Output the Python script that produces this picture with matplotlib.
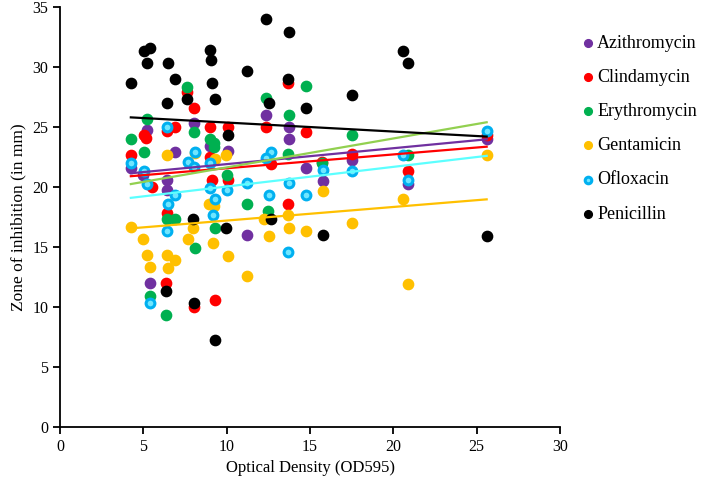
#
# Zone d'inhibition en fonction de la densité optique (OD595) pour 6 antibiotiques
#

import numpy as np
import matplotlib.pyplot as plt

#Données : (OD595, zone d'inhibition en mm)
azithro_x = [4.25, 5.0, 5.21, 5.41, 6.41, 6.41, 6.88, 8.02, 9.02, 10.06, 11.22, 12.33, 13.73, 13.73, 14.73, 15.77, 17.54, 20.88, 25.6]
azithro_y = [21.55, 21.0, 24.75, 12.0, 20.6, 19.75, 22.9, 25.3, 23.4, 23.0, 15.97, 26.0, 25.0, 24.0, 21.6, 20.5, 22.25, 20.25, 24.0]

clinda_x = [5.01, 5.17, 4.25, 5.5, 6.92, 6.41, 6.41, 6.37, 7.62, 8.02, 9.02, 10.06, 9.02, 9.12, 10.06, 8.06, 9.32, 13.67, 13.67, 12.33, 14.73, 12.63, 15.73, 17.54, 20.88, 25.6]
clinda_y = [24.3, 24.1, 22.7, 20.0, 25.0, 24.7, 17.8, 12.0, 27.9, 26.6, 25.0, 25.0, 22.5, 20.6, 20.6, 9.97, 10.6, 18.6, 28.7, 25.0, 24.6, 21.9, 22.1, 22.75, 21.3, 24.3]

erythro_x = [5.21, 4.25, 5.01, 6.41, 6.88, 7.62, 8.02, 9.02, 9.22, 9.22, 10.02, 5.41, 6.37, 8.12, 9.28, 11.22, 12.5, 12.33, 13.73, 14.73, 17.54, 15.73, 13.7, 20.88]
erythro_y = [25.7, 24.0, 22.9, 17.3, 17.3, 28.3, 24.6, 24.0, 23.7, 23.3, 21.0, 10.9, 9.33, 14.9, 16.6, 18.6, 18.0, 27.4, 26.0, 28.4, 24.3, 22.0, 22.75, 22.67]

genta_x = [6.41, 8.12, 9.32, 9.95, 8.92, 9.22, 4.25, 5.0, 5.21, 5.41, 6.41, 6.9, 6.45, 7.65, 7.97, 9.16, 10.06, 11.22, 12.23, 12.53, 13.7, 13.73, 14.73, 15.75, 17.54, 20.58, 20.88, 25.6]
genta_y = [22.7, 22.8, 22.35, 22.7, 18.6, 18.4, 16.65, 15.65, 14.3, 13.3, 14.3, 13.95, 13.25, 15.65, 16.6, 15.3, 14.25, 12.6, 17.35, 15.95, 17.7, 16.6, 16.3, 19.7, 16.97, 19.0, 11.9, 22.7]

oflox_x = [4.25, 5.01, 5.2, 6.41, 7.7, 8.02, 6.9, 6.45, 6.4, 8.12, 9.02, 9.02, 10.04, 9.32, 9.2, 5.41, 11.22, 12.63, 12.33, 12.53, 13.73, 14.73, 13.7, 15.75, 17.54, 20.58, 20.88, 25.6]
oflox_y = [21.97, 21.35, 20.25, 25.0, 22.05, 21.7, 19.3, 18.6, 16.35, 22.9, 22.0, 19.95, 19.75, 19.0, 17.7, 10.3, 20.3, 22.9, 22.45, 19.3, 20.3, 19.3, 14.6, 21.4, 21.3, 22.67, 20.6, 24.7]

penici_x = [4.25, 5.01, 5.41, 5.21, 6.45, 6.88, 6.41, 7.62, 9.02, 9.06, 9.14, 9.32, 10.06, 7.98, 9.98, 6.37, 8.06, 9.3, 12.33, 13.73, 11.22, 13.67, 12.53, 14.73, 17.54, 20.58, 20.88, 12.63, 15.77, 25.6]
penici_y = [28.7, 31.3, 31.6, 30.3, 30.3, 29.0, 27.0, 27.3, 31.4, 30.6, 28.7, 27.3, 24.3, 17.3, 16.6, 11.3, 10.3, 7.25, 34.0, 32.9, 29.7, 29.0, 27.0, 26.6, 27.7, 31.3, 30.3, 17.3, 16.0, 15.9]

#Courbes de tendance (pente, ordonnée à l'origine)
tend_azithro = [0.1326, 20.58]
tend_clinda = [0.1152, 20.41]
tend_erythro = [0.2412, 19.22]
tend_genta = [0.1133, 16.07]
tend_oflox = [0.1639, 18.40]
tend_penici = [-0.0749, 26.12]

plt.rcParams['font.family'] = ['Liberation Serif', 'DejaVu Serif']

fig = plt.figure(figsize=(7.08, 4.87), dpi=100)
ax = fig.add_axes([60/708, 1-427/487, 500/708, 420/487])

#Points
s = 55
ax.scatter(azithro_x, azithro_y, s=s, color="#7030A0", label="Azithromycin", zorder=2)
ax.scatter(clinda_x, clinda_y, s=s, color="#FF0000", label="Clindamycin", zorder=2)
ax.scatter(erythro_x, erythro_y, s=s, color="#00B050", label="Erythromycin", zorder=2)
ax.scatter(genta_x, genta_y, s=s, color="#FFC000", label="Gentamicin", zorder=2)
ax.scatter(oflox_x, oflox_y, s=40, facecolor="#6FE6FF", edgecolor="#00B0F0", linewidth=2.2, label="Ofloxacin", zorder=2)
ax.scatter(penici_x, penici_y, s=s, color="black", label="Penicillin", zorder=2)

#Tendances linéaires sur la plage des données
allx = np.concatenate([azithro_x, clinda_x, erythro_x, genta_x, oflox_x, penici_x])
xt = np.array([allx.min(), allx.max()])
for coef, c in [(tend_azithro, "#7030A0"), (tend_clinda, "#FF0000"), (tend_erythro, "#92D050"),
                (tend_genta, "#FFC000"), (tend_oflox, "#5CFFFF"), (tend_penici, "black")]:
    ax.plot(xt, np.polyval(coef, xt), color=c, linewidth=1.6, zorder=3)

ax.set_xlim(0, 30)
ax.set_ylim(0, 35)
ax.set_xticks(range(0, 31, 5))
ax.set_yticks(range(0, 36, 5))
ax.spines['top'].set_visible(False)
ax.spines['right'].set_visible(False)
ax.spines['left'].set_linewidth(1.3)
ax.spines['bottom'].set_linewidth(1.3)
ax.tick_params(direction='out', length=5, width=1.3, labelsize=11.5, colors='black')
ax.set_xlabel("Optical Density (OD595)", fontsize=12)
ax.set_ylabel("Zone of inhibition (in mm)", fontsize=12.5)

fig.legend(loc='upper left', bbox_to_anchor=(0.795, 0.962), frameon=False, fontsize=13,
           markerscale=0.75, handletextpad=0.0, labelspacing=0.95, handlelength=1.0)

plt.savefig("out.png", dpi=100)
